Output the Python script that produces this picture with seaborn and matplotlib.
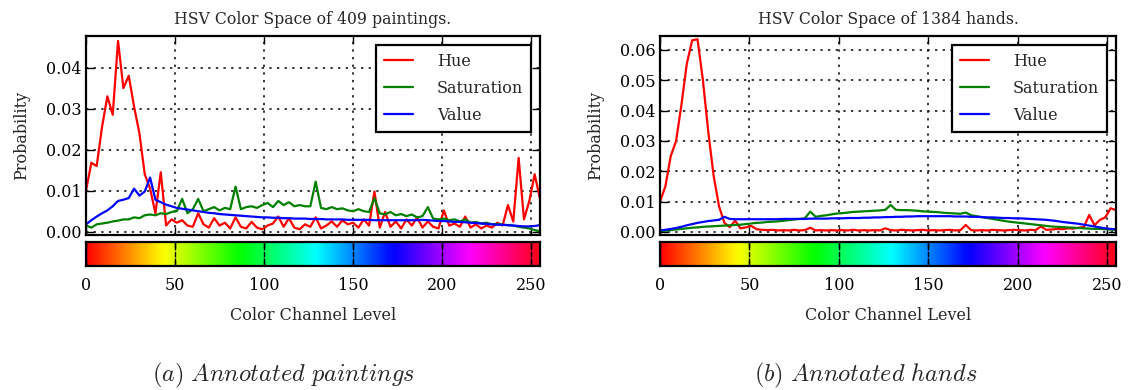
import numpy as np
import pandas as pd
import matplotlib
matplotlib.use("Agg")
import matplotlib.pyplot as plt
import seaborn as sns
from matplotlib.ticker import FormatStrFormatter, MultipleLocator

# ---------------- data ----------------
levels = list(range(0, 256, 3))  # colour channel levels 0..255

paint_hue = [
    0.0100, 0.0168, 0.0160, 0.0255, 0.0330, 0.0285, 0.0465, 0.0350, 0.0380, 0.0305,
    0.0240, 0.0140, 0.0105, 0.0045, 0.0145, 0.0015, 0.0030, 0.0022, 0.0028, 0.0015,
    0.0012, 0.0045, 0.0018, 0.0010, 0.0033, 0.0015, 0.0022, 0.0008, 0.0035, 0.0012,
    0.0008, 0.0024, 0.0010, 0.0006, 0.0015, 0.0020, 0.0037, 0.0012, 0.0033, 0.0010,
    0.0006, 0.0018, 0.0012, 0.0035, 0.0008, 0.0015, 0.0025, 0.0012, 0.0028, 0.0018,
    0.0022, 0.0010, 0.0030, 0.0015, 0.0098, 0.0010, 0.0048, 0.0012, 0.0025, 0.0008,
    0.0030, 0.0015, 0.0035, 0.0010, 0.0025, 0.0012, 0.0008, 0.0052, 0.0015, 0.0020,
    0.0012, 0.0037, 0.0010, 0.0018, 0.0008, 0.0015, 0.0010, 0.0022, 0.0015, 0.0065,
    0.0025, 0.0180, 0.0030, 0.0075, 0.0140, 0.0080,
]
paint_sat = [
    0.0015, 0.0010, 0.0018, 0.0020, 0.0022, 0.0025, 0.0027, 0.0030, 0.0030, 0.0035,
    0.0033, 0.0040, 0.0042, 0.0040, 0.0045, 0.0043, 0.0048, 0.0050, 0.0080, 0.0045,
    0.0055, 0.0080, 0.0050, 0.0055, 0.0060, 0.0052, 0.0058, 0.0055, 0.0110, 0.0055,
    0.0060, 0.0062, 0.0058, 0.0065, 0.0070, 0.0060, 0.0075, 0.0065, 0.0072, 0.0062,
    0.0065, 0.0062, 0.0062, 0.0122, 0.0058, 0.0055, 0.0060, 0.0055, 0.0057, 0.0052,
    0.0050, 0.0055, 0.0050, 0.0048, 0.0082, 0.0045, 0.0042, 0.0048, 0.0040, 0.0043,
    0.0038, 0.0042, 0.0035, 0.0038, 0.0060, 0.0032, 0.0030, 0.0032, 0.0028, 0.0030,
    0.0025, 0.0030, 0.0022, 0.0024, 0.0020, 0.0022, 0.0018, 0.0019, 0.0017, 0.0016,
    0.0015, 0.0012, 0.0010, 0.0008, 0.0004, 0.0001,
]
paint_val = [
    0.0018, 0.0028, 0.0037, 0.0045, 0.0052, 0.0062, 0.0075, 0.0078, 0.0082, 0.0105,
    0.0088, 0.0098, 0.0132, 0.0078, 0.0072, 0.0066, 0.0062, 0.0058, 0.0056, 0.0054,
    0.0052, 0.0050, 0.0048, 0.0046, 0.0045, 0.0043, 0.0042, 0.0041, 0.0040, 0.0039,
    0.0038, 0.0037, 0.0036, 0.0035, 0.0035, 0.0034, 0.0034, 0.0033, 0.0033, 0.0032,
    0.0032, 0.0032, 0.0031, 0.0031, 0.0031, 0.0030, 0.0030, 0.0030, 0.0030, 0.0029,
    0.0029, 0.0029, 0.0029, 0.0029, 0.0028, 0.0028, 0.0028, 0.0028, 0.0028, 0.0028,
    0.0028, 0.0028, 0.0028, 0.0029, 0.0028, 0.0027, 0.0026, 0.0026, 0.0025, 0.0024,
    0.0024, 0.0023, 0.0022, 0.0021, 0.0020, 0.0019, 0.0018, 0.0017, 0.0017, 0.0016,
    0.0015, 0.0014, 0.0013, 0.0013, 0.0014, 0.0016,
]

hand_hue = [
    0.0100, 0.0150, 0.0250, 0.0300, 0.0420, 0.0555, 0.0632, 0.0635, 0.0500, 0.0330,
    0.0185, 0.0085, 0.0030, 0.0016, 0.0037, 0.0012, 0.0015, 0.0020, 0.0009, 0.0007,
    0.0006, 0.0007, 0.0005, 0.0006, 0.0005, 0.0007, 0.0005, 0.0006, 0.0014, 0.0005,
    0.0006, 0.0005, 0.0006, 0.0005, 0.0006, 0.0005, 0.0007, 0.0005, 0.0006, 0.0005,
    0.0006, 0.0005, 0.0012, 0.0006, 0.0005, 0.0007, 0.0006, 0.0005, 0.0006, 0.0007,
    0.0005, 0.0006, 0.0005, 0.0006, 0.0007, 0.0005, 0.0006, 0.0023, 0.0006, 0.0005,
    0.0006, 0.0005, 0.0007, 0.0006, 0.0005, 0.0006, 0.0007, 0.0006, 0.0005, 0.0007,
    0.0006, 0.0018, 0.0007, 0.0008, 0.0010, 0.0009, 0.0012, 0.0011, 0.0014, 0.0016,
    0.0056, 0.0022, 0.0040, 0.0048, 0.0078, 0.0072,
]
hand_sat = [
    0.0003, 0.0004, 0.0006, 0.0008, 0.0010, 0.0012, 0.0014, 0.0015, 0.0017, 0.0018,
    0.0019, 0.0020, 0.0021, 0.0022, 0.0023, 0.0024, 0.0026, 0.0028, 0.0030, 0.0031,
    0.0033, 0.0034, 0.0035, 0.0037, 0.0039, 0.0041, 0.0043, 0.0045, 0.0067, 0.0050,
    0.0053, 0.0055, 0.0058, 0.0061, 0.0062, 0.0064, 0.0066, 0.0067, 0.0068, 0.0069,
    0.0070, 0.0071, 0.0073, 0.0089, 0.0073, 0.0072, 0.0072, 0.0071, 0.0070, 0.0068,
    0.0067, 0.0066, 0.0065, 0.0063, 0.0062, 0.0061, 0.0060, 0.0064, 0.0055, 0.0052,
    0.0049, 0.0046, 0.0043, 0.0040, 0.0037, 0.0034, 0.0032, 0.0030, 0.0028, 0.0026,
    0.0024, 0.0022, 0.0020, 0.0018, 0.0017, 0.0016, 0.0015, 0.0014, 0.0013, 0.0012,
    0.0011, 0.0010, 0.0010, 0.0009, 0.0008, 0.0007,
]
hand_val = [
    0.0005, 0.0007, 0.0010, 0.0013, 0.0017, 0.0022, 0.0026, 0.0030, 0.0033, 0.0036,
    0.0038, 0.0040, 0.0050, 0.0043, 0.0042, 0.0042, 0.0042, 0.0042, 0.0042, 0.0042,
    0.0042, 0.0042, 0.0042, 0.0043, 0.0043, 0.0043, 0.0043, 0.0043, 0.0044, 0.0044,
    0.0044, 0.0044, 0.0045, 0.0045, 0.0045, 0.0046, 0.0046, 0.0046, 0.0047, 0.0047,
    0.0048, 0.0048, 0.0049, 0.0049, 0.0050, 0.0050, 0.0051, 0.0051, 0.0052, 0.0052,
    0.0052, 0.0052, 0.0052, 0.0052, 0.0052, 0.0051, 0.0051, 0.0051, 0.0050, 0.0050,
    0.0049, 0.0048, 0.0048, 0.0047, 0.0046, 0.0046, 0.0045, 0.0045, 0.0044, 0.0043,
    0.0042, 0.0041, 0.0040, 0.0038, 0.0036, 0.0033, 0.0031, 0.0029, 0.0027, 0.0024,
    0.0021, 0.0018, 0.0015, 0.0012, 0.0010, 0.0009,
]

channels = ["Hue", "Saturation", "Value"]
palette = {"Hue": "#ff0000", "Saturation": "#008000", "Value": "#0000ff"}
titles = ["HSV Color Space of 409 paintings.", "HSV Color Space of 1384 hands."]
captions = ["(a) Annotated paintings", "(b) Annotated hands"]
x_ticks = [0, 50, 100, 150, 200, 250]

# ---------------- style ----------------
sns.set_theme(style="white")
plt.rcParams["font.family"] = ["DejaVu Serif"]
plt.rcParams["mathtext.fontset"] = "cm"

fig = plt.figure(figsize=(11.28, 3.9), dpi=100)

panels = [
    dict(left=86 / 1128, width=454 / 1128, hue=paint_hue, sat=paint_sat, val=paint_val,
         ylim=(-0.0008, 0.0477), cap_x=283 / 1128),
    dict(left=660 / 1128, width=456 / 1128, hue=hand_hue, sat=hand_sat, val=hand_val,
         ylim=(-0.0010, 0.0646), cap_x=866 / 1128),
]

grid_kw = dict(color="black", linestyle=(0, (1.5, 3.5)), linewidth=1.1)

for i, p in enumerate(panels):
    ax = fig.add_axes([p["left"], (390 - 235) / 390, p["width"], 199 / 390])
    cax = fig.add_axes([p["left"], (390 - 266) / 390, p["width"], 24 / 390])

    n = len(levels)
    df = pd.DataFrame({
        "level": levels * 3,
        "prob": p["hue"] + p["sat"] + p["val"],
        "channel": ["Hue"] * n + ["Saturation"] * n + ["Value"] * n,
    })
    sns.lineplot(data=df, x="level", y="prob", hue="channel", hue_order=channels,
                 palette=palette, estimator=None, linewidth=1.6, ax=ax)

    ax.set_xlim(0, 255)
    ax.set_ylim(*p["ylim"])
    ax.set_xticks(x_ticks)
    ax.set_xticklabels([])
    ax.yaxis.set_major_locator(MultipleLocator(0.01))
    ax.yaxis.set_major_formatter(FormatStrFormatter("%.2f"))
    ax.set_xlabel("")
    ax.set_ylabel("Probability", fontsize=11.5, labelpad=11)
    ax.tick_params(direction="in", length=6, width=1, top=True, right=True,
                   bottom=True, left=True, labelsize=11.5, colors="black")
    ax.grid(True, **grid_kw)
    for s in ax.spines.values():
        s.set_linewidth(1.6)
        s.set_color("black")
    ax.set_title(titles[i], fontsize=11.3, pad=9)

    handles, labels = ax.get_legend_handles_labels()
    leg = ax.legend(handles, labels, loc="upper right", fontsize=11.5, frameon=True,
                    fancybox=False, framealpha=1, edgecolor="black",
                    handlelength=1.8, handletextpad=1.5, labelspacing=0.62,
                    borderpad=0.5, borderaxespad=0.55)
    leg.get_frame().set_linewidth(1.6)
    for line in leg.get_lines():
        line.set_linewidth(1.6)

    # colour bar strip
    grad = np.linspace(0, 1, 512).reshape(1, -1)
    cax.imshow(grad, cmap="hsv", aspect="auto", extent=[0, 255, 0, 1])
    cax.set_xlim(0, 255)
    cax.set_ylim(0, 1)
    cax.set_yticks([])
    cax.set_xticks(x_ticks)
    cax.tick_params(axis="x", direction="in", length=6, width=1, top=True,
                    bottom=True, labelsize=11.5, colors="black", pad=8)
    cax.grid(True, axis="x", color="black", linestyle=(0, (4, 2.5)), linewidth=1.0)
    for s in cax.spines.values():
        s.set_linewidth(1.6)
        s.set_color("black")
    cax.set_xlabel("Color Channel Level", fontsize=11.5, labelpad=9)

    fig.text(p["cap_x"], (390 - 375) / 390,
             r"$\mathit{" + captions[i].replace(" ", r"\ ") + "}$",
             fontsize=17.5, ha="center", va="center")

fig.savefig("out.png", dpi=100)
